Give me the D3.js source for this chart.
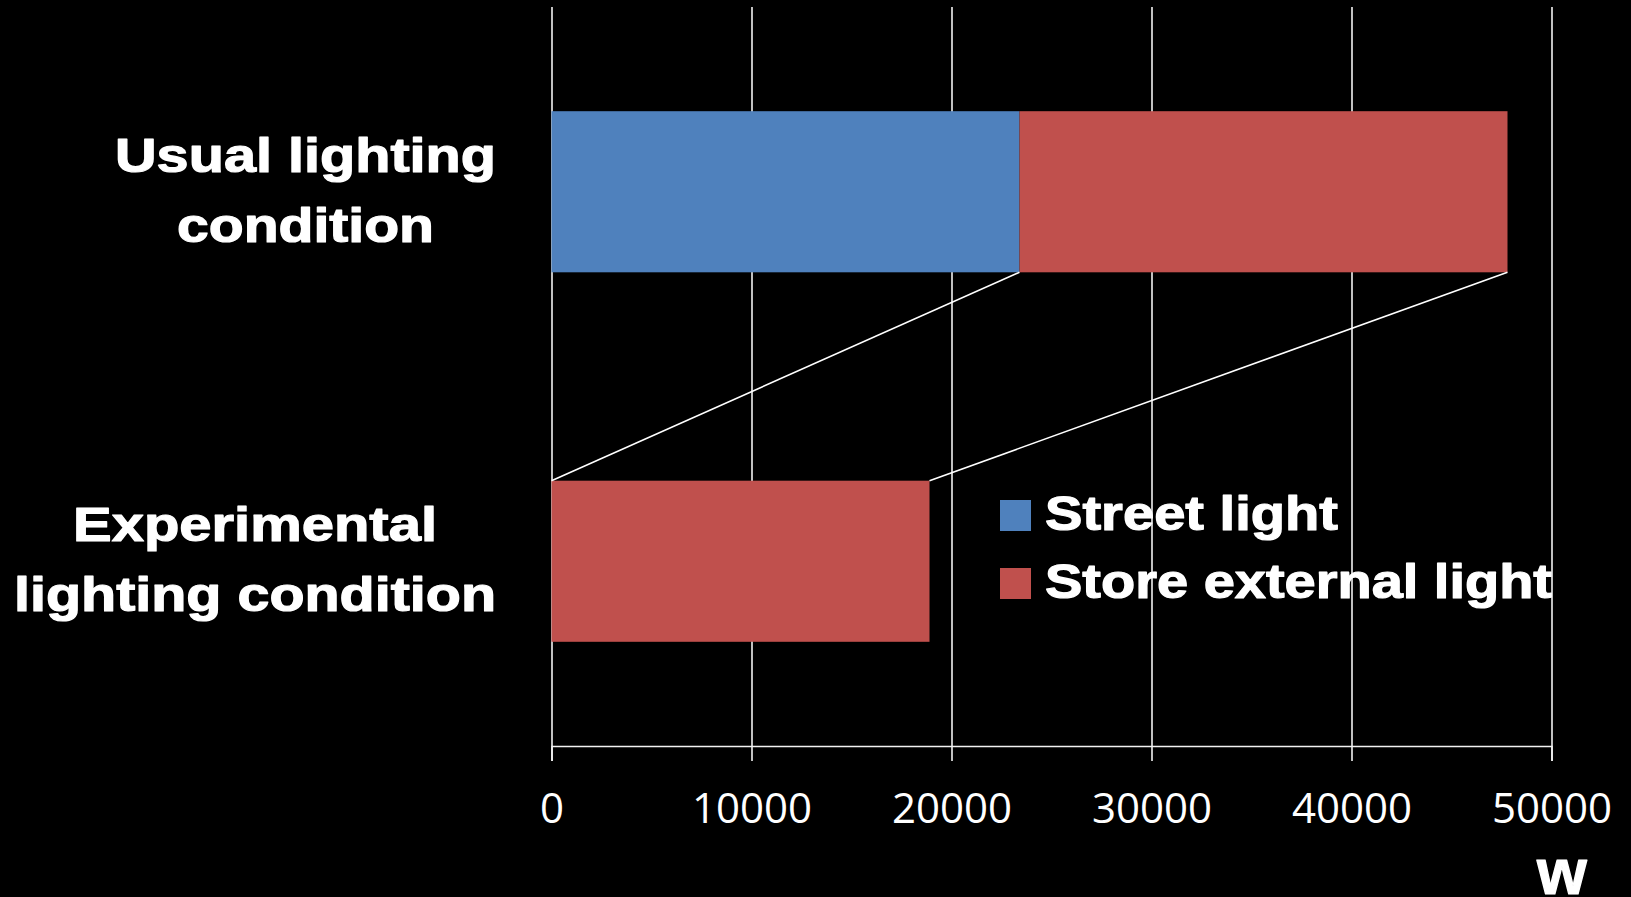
<!DOCTYPE html>
<html>
<head>
<meta charset="utf-8">
<script src="https://cdn.jsdelivr.net/npm/d3@7"></script>
<style>
  html, body { margin: 0; padding: 0; background: #000; }
  svg { display: block; }
</style>
</head>
<body>
<svg id="chart" width="1631" height="897"></svg>
<script>
// Power consumption (W) by lighting condition, stacked by light source
const categories = ["Usual lighting condition", "Experimental lighting condition"];
const categoryLines = [["Usual lighting", "condition"], ["Experimental", "lighting condition"]];
const seriesNames = ["Street light", "Store external light"];
const streetLight = [23400, 0];
const storeLight = [24400, 18900];
const xTicks = [0, 10000, 20000, 30000, 40000, 50000];
const unitLabel = "w";

const colors = ["#4f81bd", "#c0504d"];

const svg = d3.select("#chart");
const plot = { left: 551.5, right: 1551.5, top: 7, bottom: 746 };

const x = d3.scaleLinear().domain([0, 50000]).range([plot.left, plot.right]);
const y = d3.scaleBand().domain(categories)
  .range([plot.top, plot.bottom])
  .paddingInner(0.564).paddingOuter(0.282);

// stacked layout
const rows = categories.map((c, i) => ({ cat: c, street: streetLight[i], store: storeLight[i] }));
const stack = d3.stack().keys(["street", "store"]);
const layers = stack(rows);

// vertical gridlines
svg.append("g")
  .attr("transform", `translate(0,${plot.bottom})`)
  .call(d3.axisBottom(x).tickValues(xTicks).tickSize(-(plot.bottom - plot.top)).tickFormat(""))
  .call(g => g.select(".domain").remove())
  .call(g => g.selectAll("line").attr("stroke", "#f2f2f2").attr("stroke-width", 1.6));

// bars
layers.forEach((layer, li) => {
  svg.append("g").selectAll("rect").data(layer).join("rect")
    .attr("x", d => x(d[0]))
    .attr("y", d => y(d.data.cat))
    .attr("width", d => x(d[1]) - x(d[0]))
    .attr("height", y.bandwidth())
    .attr("fill", colors[li]);
});

// series lines joining the stack boundaries between the two bars
layers.forEach(layer => {
  const a = layer[0], b = layer[1];
  svg.append("line")
    .attr("x1", x(a[1])).attr("y1", y(a.data.cat) + y.bandwidth())
    .attr("x2", x(b[1])).attr("y2", y(b.data.cat))
    .attr("stroke", "#fff").attr("stroke-width", 1.6);
});

// x axis
const xAxis = svg.append("g")
  .attr("transform", `translate(0,${plot.bottom})`)
  .call(d3.axisBottom(x).tickValues(xTicks).tickSize(15).tickPadding(32).tickFormat(d3.format("d")));
xAxis.select(".domain").attr("stroke", "#f2f2f2").attr("stroke-width", 1.6);
xAxis.selectAll(".tick line").attr("stroke", "#f2f2f2").attr("stroke-width", 1.6);
xAxis.selectAll(".tick text")
  .attr("fill", "#fff")
  .attr("font-family", "'Open Sans', 'Noto Sans', sans-serif")
  .attr("font-size", 42);

// heavy label text helper
const boldFont = "'Liberation Sans', Arial, sans-serif";
function heavyText(sel) {
  return sel
    .attr("font-family", boldFont)
    .attr("font-weight", "bold")
    .attr("fill", "#fff")
    .attr("stroke", "#fff")
    .attr("stroke-width", 1.2)
    .attr("stroke-linejoin", "round");
}

// category labels: lines centred inside a right-aligned block
const labelRight = 496;
const lineWidths = [[381, 257], [364, 482]];
categories.forEach((c, i) => {
  const cy = y(c) + y.bandwidth() / 2;
  const widths = lineWidths[i];
  const blockW = d3.max(widths);
  const cx = labelRight - blockW / 2;
  categoryLines[i].forEach((line, j) => {
    svg.append("text")
      .attr("x", cx)
      .attr("y", cy - 20 + j * 70)
      .attr("text-anchor", "middle")
      .attr("font-size", 49)
      .attr("textLength", widths[j])
      .attr("lengthAdjust", "spacingAndGlyphs")
      .call(heavyText)
      .text(line);
  });
});

// legend
const legend = svg.append("g").attr("transform", "translate(1000,500)");
const legendWidths = [293, 507];
seriesNames.forEach((name, i) => {
  const g = legend.append("g").attr("transform", `translate(0,${i * 68})`);
  g.append("rect").attr("width", 31).attr("height", 31).attr("fill", colors[i]);
  g.append("text")
    .attr("x", 45).attr("y", 30)
    .attr("font-size", 49)
    .attr("textLength", legendWidths[i])
    .attr("lengthAdjust", "spacingAndGlyphs")
    .call(heavyText)
    .text(name);
});

// unit label
svg.append("text")
  .attr("x", 1562).attr("y", 894)
  .attr("text-anchor", "middle")
  .attr("font-size", 64)
  .call(heavyText)
  .text(unitLabel);
</script>
</body>
</html>
